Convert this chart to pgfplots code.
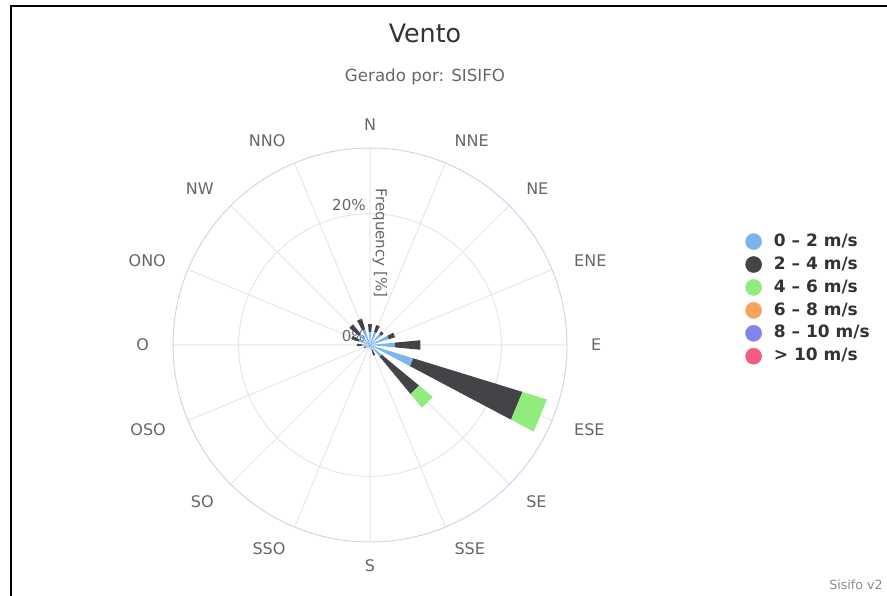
\documentclass[border=0pt]{standalone}
\usepackage{fontspec}
\setmainfont{DejaVu Sans}
\usepackage{pgfplots}
\usepackage{pgfplotstable}
\usepgfplotslibrary{polar}
\pgfplotsset{compat=1.18}

\definecolor{c0}{HTML}{7CB5EC}
\definecolor{c1}{HTML}{434348}
\definecolor{c2}{HTML}{90ED7D}
\definecolor{c3}{HTML}{F7A35C}
\definecolor{c4}{HTML}{8085E9}
\definecolor{c5}{HTML}{F15C80}
\definecolor{titlec}{HTML}{333333}
\definecolor{subc}{HTML}{666666}
\definecolor{gridc}{HTML}{E6E6E6}
\definecolor{axisc}{HTML}{CCD6EB}

% ang = direction in degrees counterclockwise from east (N = 90)
% v1 = 0-2 m/s, v2 = 2-4 m/s, v3 = 4-6 m/s  (frequency in %)
\pgfplotstableread{
ang    v1    v2    v3
90     2.0   1.2   0
67.5   2.1   1.1   0
45     2.2   0.5   0
22.5   3.0   1.0   0
0      3.8   3.9   0
337.5  6.9   17.4  3.9
315    2.3   7.4   2.7
292.5  0.8   0.9   0
270    0.5   0     0
247.5  0.4   0     0
225    0.5   0     0
202.5  0.7   0.3   0
180    1.3   0.7   0
157.5  1.8   1.2   0
135    2.2   1.9   0
112.5  2.5   1.7   0
}\rosedata

\begin{document}
\begin{tikzpicture}[x=0.75pt,y=0.75pt]
\useasboundingbox (0,0) rectangle (887,595);
\draw[line width=1.5pt, line cap=rect] (11,0) -- (11,589) -- (887,589);

\node[font=\fontsize{19}{22}\selectfont, text=titlec] at (425,562) {Vento};
\node[font=\fontsize{12.5}{15}\selectfont, text=subc] at (425,518) {Gerado por: SISIFO};
\node[font=\fontsize{9.5}{11}\selectfont, text=black!45] at (856,10) {Sisifo v2};

\begin{polaraxis}[
    at={(277.5pt,187.5pt)}, anchor=center,
    scale only axis,
    width=295.5pt, height=295.5pt,
    ymin=0, ymax=30,
    xtick={0,22.5,45,67.5,90,112.5,135,157.5,180,202.5,225,247.5,270,292.5,315,337.5},
    xticklabels={E,ENE,NE,NNE,N,NNO,NW,ONO,O,OSO,SO,SSO,S,SSE,SE,ESE},
    xticklabel style={
        anchor={ifthenelse(cos(\tick)>0.01,180,ifthenelse(cos(\tick)<-0.01,0,ifthenelse(sin(\tick)>0,270,90)))},
        shift={(\tick:{18pt-5pt*(abs(cos(\tick))<0.01)})},
        outer sep=0pt, inner sep=0pt,
        font=\fontsize{12}{14}\selectfont, text=subc},
    ytick={0,20},
    yticklabels={},
    major tick length=0pt,
    grid=major,
    major grid style={color=gridc, line width=0.75pt},
    axis line style={color=axisc, line width=0.75pt},
    y axis line style={draw=none},
    legend style={at={(1.452,0.617)}, anchor=west, draw=none, fill=none,
        inner sep=0pt, row sep=4.8pt, column sep=9pt,
        nodes={inner sep=0pt, text height=9.5pt, text depth=2.5pt},
        font=\bfseries\fontsize{12.75}{15}\selectfont, text=titlec},
    legend cell align=left,
]
\node[font=\fontsize{11.3}{13}\selectfont, text=subc, anchor=south east, inner sep=1pt]
    at (axis cs:90,20) [xshift=-2pt, yshift=1pt] {20\%};
\node[font=\fontsize{11.3}{13}\selectfont, text=subc, anchor=south east, inner sep=1pt]
    at (axis cs:90,0) [xshift=-2pt, yshift=1pt] {0\%};
\node[xshift=7.5pt, rotate=-90, font=\fontsize{11.3}{13}\selectfont, text=subc]
    at (axis cs:90,15.5) {Frequency [\%]};

\pgfplotstablegetrowsof{\rosedata}
\pgfmathtruncatemacro\nrows{\pgfplotsretval-1}
\foreach \i in {0,...,\nrows}{
  \pgfplotstablegetelem{\i}{ang}\of\rosedata \let\ang\pgfplotsretval
  \pgfplotstablegetelem{\i}{v1}\of\rosedata \let\va\pgfplotsretval
  \pgfplotstablegetelem{\i}{v2}\of\rosedata \let\vb\pgfplotsretval
  \pgfplotstablegetelem{\i}{v3}\of\rosedata \let\vc\pgfplotsretval
  \pgfmathsetmacro\lo{\ang-5.4}
  \pgfmathsetmacro\hi{\ang+5.4}
  \pgfmathsetmacro\ra{\va}
  \pgfmathsetmacro\rb{\va+\vb}
  \pgfmathsetmacro\rc{\va+\vb+\vc}
  \edef\temp{%
    \noexpand\addplot[forget plot, fill=c0, draw=none] coordinates {(\lo,0) (\lo,\ra) (\hi,\ra) (\hi,0)} -- cycle;
    \noexpand\addplot[forget plot, fill=c1, draw=none] coordinates {(\lo,\ra) (\lo,\rb) (\hi,\rb) (\hi,\ra)} -- cycle;
    \noexpand\addplot[forget plot, fill=c2, draw=none] coordinates {(\lo,\rb) (\lo,\rc) (\hi,\rc) (\hi,\rb)} -- cycle;
  }
  \temp
}

\addlegendimage{legend image code/.code={\fill[c0] (0pt,0pt) circle (6pt);}}
\addlegendentry{0 – 2 m/s}
\addlegendimage{legend image code/.code={\fill[c1] (0pt,0pt) circle (6pt);}}
\addlegendentry{2 – 4 m/s}
\addlegendimage{legend image code/.code={\fill[c2] (0pt,0pt) circle (6pt);}}
\addlegendentry{4 – 6 m/s}
\addlegendimage{legend image code/.code={\fill[c3] (0pt,0pt) circle (6pt);}}
\addlegendentry{6 – 8 m/s}
\addlegendimage{legend image code/.code={\fill[c4] (0pt,0pt) circle (6pt);}}
\addlegendentry{8 – 10 m/s}
\addlegendimage{legend image code/.code={\fill[c5] (0pt,0pt) circle (6pt);}}
\addlegendentry{> 10 m/s}
\end{polaraxis}
\end{tikzpicture}
\end{document}
